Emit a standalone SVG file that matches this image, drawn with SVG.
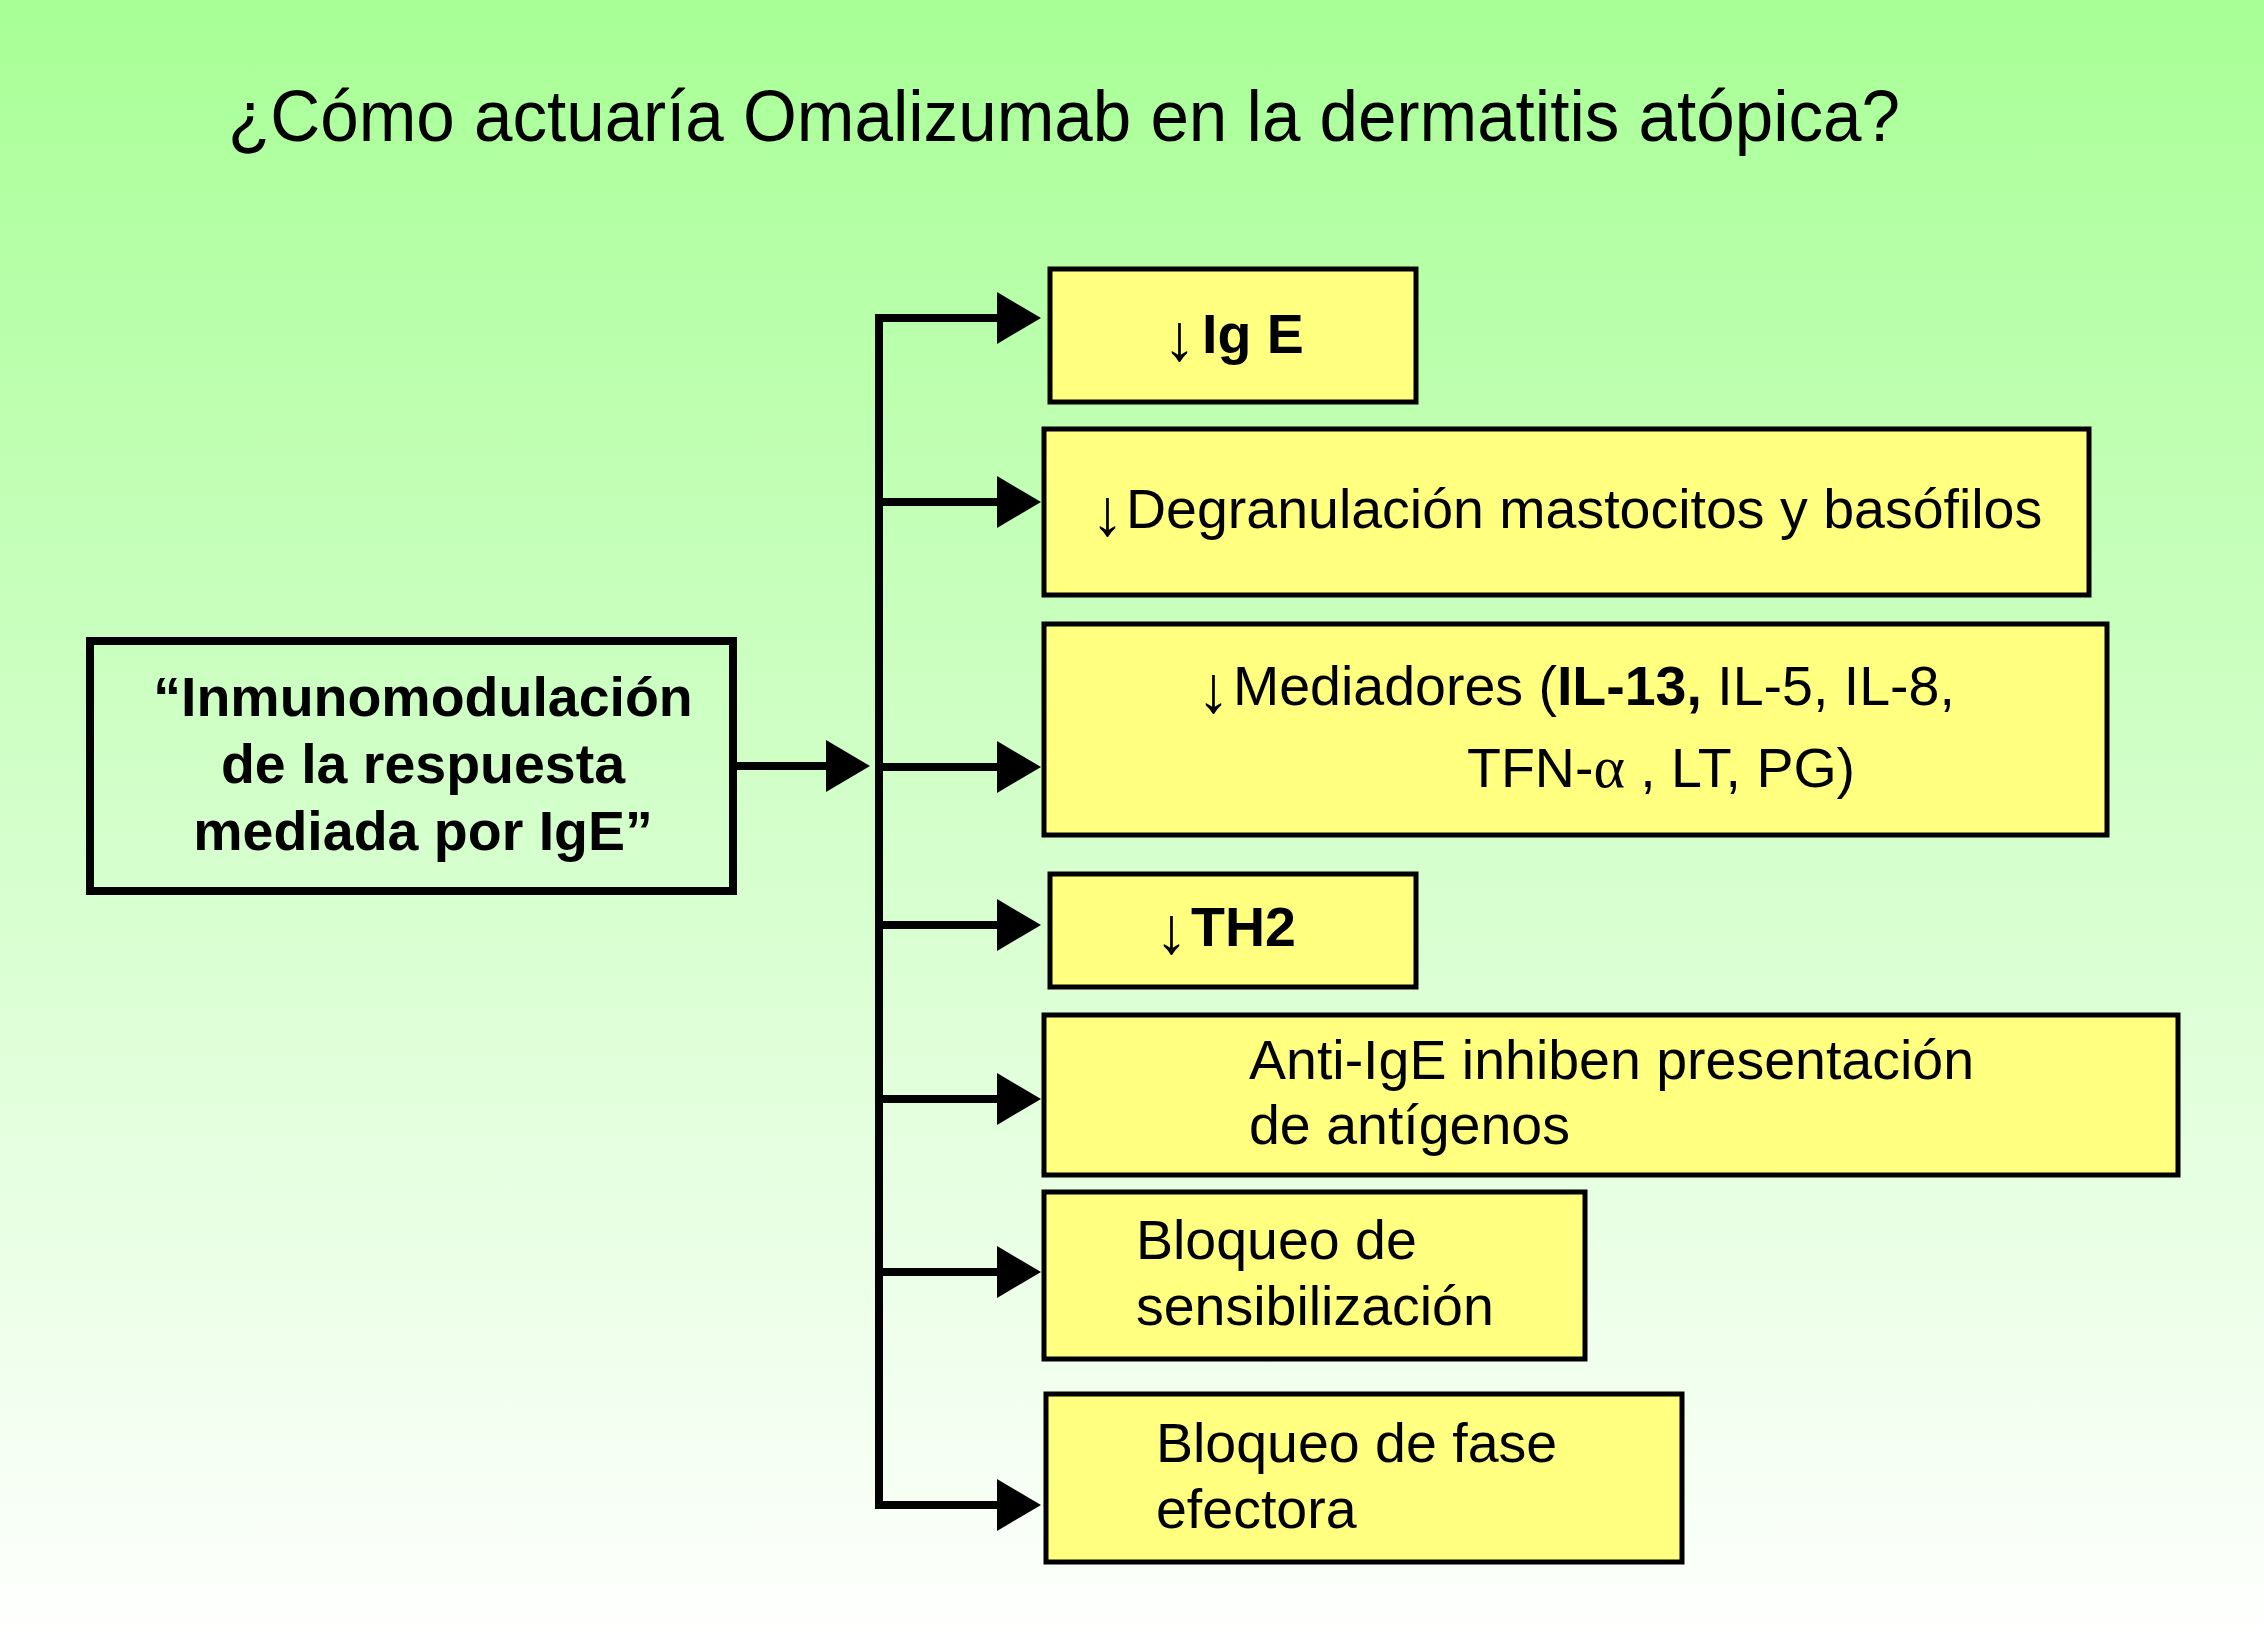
<svg xmlns="http://www.w3.org/2000/svg" width="2264" height="1646" viewBox="0 0 2264 1646">
<defs>
<linearGradient id="bg" x1="0" y1="0" x2="0" y2="1">
<stop offset="0" stop-color="#a8ff96"/>
<stop offset="1" stop-color="#ffffff"/>
</linearGradient>
<marker id="ah" markerUnits="userSpaceOnUse" markerWidth="44" markerHeight="52" viewBox="0 0 44 52" refX="2" refY="26" orient="auto">
<path d="M0,0 L44,26 L0,52 z" fill="#000"/>
</marker>
<style>
text{font-family:"Liberation Sans",Arial,Helvetica,sans-serif;fill:#000}
.box{fill:#ffff80;stroke:#000;stroke-width:5}
.main{fill:none;stroke:#000;stroke-width:8}
.t{font-size:55.5px}
.b{font-weight:bold}
.arr{font-weight:normal;font-size:66px}
.con{fill:none;stroke:#000;stroke-width:8}
.br{fill:none;stroke:#000;stroke-width:8;marker-end:url(#ah)}
</style>
</defs>
<rect width="2264" height="1646" fill="url(#bg)"/>
<text x="228" y="141" font-size="72" textLength="1672" lengthAdjust="spacingAndGlyphs">¿Cómo actuaría Omalizumab en la dermatitis atópica?</text>

<g id="connectors">
<path class="con" d="M999,318 H879 V1505 H999"/>
<line class="br" x1="879" y1="318" x2="999" y2="318"/>
<line class="br" x1="879" y1="502" x2="999" y2="502"/>
<line class="br" x1="879" y1="767" x2="999" y2="767"/>
<line class="br" x1="879" y1="925" x2="999" y2="925"/>
<line class="br" x1="879" y1="1099" x2="999" y2="1099"/>
<line class="br" x1="879" y1="1272" x2="999" y2="1272"/>
<line class="br" x1="879" y1="1505" x2="999" y2="1505"/>
<line class="br" x1="737" y1="766" x2="828" y2="766"/>
</g>

<g id="n-inmuno">
<rect class="main" x="90" y="641" width="643" height="250"/>
<g class="t b" text-anchor="middle">
<text x="423" y="716">“Inmunomodulación</text>
<text x="423" y="783">de la respuesta</text>
<text x="423" y="850">mediada por IgE”</text>
</g>
</g>

<g id="n-ige">
<rect class="box" x="1050" y="269" width="366" height="133"/>
<text class="t b" x="1163" y="353"><tspan class="arr" y="360">↓</tspan><tspan x="1202" y="353">Ig E</tspan></text>
</g>

<g id="n-degran">
<rect class="box" x="1044" y="429" width="1045" height="166"/>
<text class="t" x="1091" y="528"><tspan class="arr" y="535">↓</tspan><tspan x="1126" y="528">Degranulación mastocitos y basófilos</tspan></text>
</g>

<g id="n-mediadores">
<rect class="box" x="1044" y="624" width="1063" height="211"/>
<text class="t" x="1197" y="705"><tspan class="arr" y="712">↓</tspan><tspan x="1233" y="705">Mediadores (</tspan><tspan class="b">IL-13,</tspan> IL-5, IL-8,</text>
<text class="t" x="1467" y="787">TFN-<tspan font-family="Liberation Serif, serif" font-size="60">α</tspan> , LT, PG)</text>
</g>

<g id="n-th2">
<rect class="box" x="1050" y="874" width="366" height="113"/>
<text class="t b" x="1155" y="946"><tspan class="arr" y="953">↓</tspan><tspan x="1191" y="946">TH2</tspan></text>
</g>

<g id="n-antiige">
<rect class="box" x="1044" y="1015" width="1134" height="160"/>
<text class="t" x="1249" y="1079">Anti-IgE inhiben presentación</text>
<text class="t" x="1249" y="1144">de antígenos</text>
</g>

<g id="n-sensib">
<rect class="box" x="1044" y="1192" width="541" height="167"/>
<text class="t" x="1136" y="1259">Bloqueo de</text>
<text class="t" x="1136" y="1325">sensibilización</text>
</g>

<g id="n-efectora">
<rect class="box" x="1046" y="1394" width="636" height="168"/>
<text class="t" x="1156" y="1462">Bloqueo de fase</text>
<text class="t" x="1156" y="1528">efectora</text>
</g>
</svg>
